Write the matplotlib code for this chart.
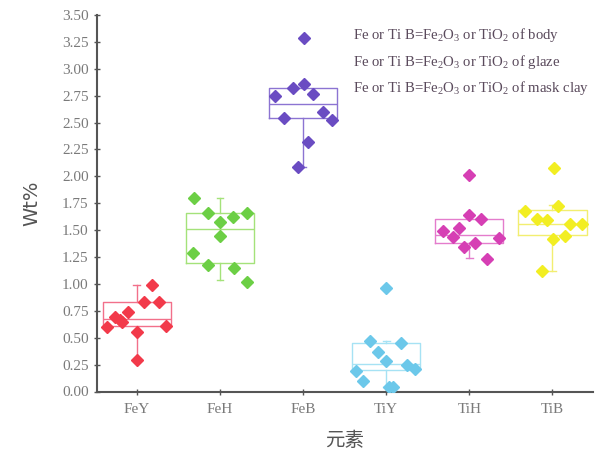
import matplotlib
matplotlib.use("Agg")
import matplotlib.pyplot as plt
import numpy as np

plt.rcParams['mathtext.fontset'] = 'custom'
plt.rcParams['mathtext.rm'] = 'Liberation Serif'
plt.rcParams['mathtext.it'] = 'Liberation Serif'

categories = ["FeY", "FeH", "FeB", "TiY", "TiH", "TiB"]

# point values (Wt%)
FeY = [0.60, 0.695, 0.665, 0.65, 0.74, 0.55, 0.29, 0.83, 0.99, 0.835, 0.61]
FeH = [1.80, 1.655, 1.58, 1.45, 1.62, 1.655, 1.285, 1.175, 1.145, 1.02]
FeB = [3.29, 2.745, 2.82, 2.855, 2.77, 2.54, 2.60, 2.52, 2.32, 2.09]
TiY = [0.465, 0.45, 0.37, 0.28, 0.25, 0.21, 0.19, 0.10, 0.045, 0.045, 0.96]
TiH = [2.01, 1.64, 1.60, 1.49, 1.52, 1.44, 1.43, 1.345, 1.38, 1.23]
TiB = [2.08, 1.727, 1.68, 1.60, 1.59, 1.555, 1.56, 1.42, 1.445, 1.12]

# horizontal jitter of each point (category units)
FeY_jit = [-0.36, -0.265, -0.2, -0.18, -0.1, 0.0, 0.0, 0.085, 0.18, 0.265, 0.35]
FeH_jit = [-0.31, -0.145, 0.0, 0.0, 0.16, 0.32, -0.32, -0.145, 0.17, 0.32]
FeB_jit = [0.01, -0.34, -0.12, 0.01, 0.12, -0.23, 0.235, 0.35, 0.055, -0.065]
TiY_jit = [-0.19, 0.175, -0.1, 0.0, 0.25, 0.35, -0.36, -0.28, 0.035, 0.085, 0.0]
TiH_jit = [0.0, 0.0, 0.14, -0.32, -0.13, -0.2, 0.355, -0.065, 0.065, 0.21]
TiB_jit = [0.02, 0.07, -0.33, -0.19, -0.06, 0.21, 0.36, 0.01, 0.15, -0.125]

# box statistics
q1 = [0.61, 1.19, 2.54, 0.20, 1.38, 1.455]
med = [0.67, 1.515, 2.67, 0.26, 1.455, 1.56]
q3 = [0.835, 1.655, 2.82, 0.455, 1.60, 1.69]
whislo = [0.29, 1.036, 2.09, 0.04, 1.24, 1.12]
whishi = [0.99, 1.80, 2.855, 0.465, 1.64, 1.73]

legend_lines = [
    r"Fe or Ti B=Fe$_2$O$_3$ or TiO$_2$ of body",
    r"Fe or Ti B=Fe$_2$O$_3$ or TiO$_2$ of glaze",
    r"Fe or Ti B=Fe$_2$O$_3$ or TiO$_2$ of mask clay",
]

point_colors = ["#f23a4a", "#6ccf45", "#6a4cc2", "#6cc8ea", "#d63fb4", "#f2ee22"]
box_colors = ["#f2708a", "#a4e27a", "#8c74d2", "#a6e2f4", "#e47ccc", "#f2ee70"]

series = [FeY, FeH, FeB, TiY, TiH, TiB]
jitters = [FeY_jit, FeH_jit, FeB_jit, TiY_jit, TiH_jit, TiB_jit]

fig = plt.figure(figsize=(5.98, 4.5), dpi=100)
ax = fig.add_axes([0.162, 0.13, 0.830, 0.8367])

pos = np.arange(len(categories))
for i in range(len(categories)):
    st = dict(med=med[i], q1=q1[i], q3=q3[i], whislo=whislo[i], whishi=whishi[i], fliers=[])
    c = box_colors[i]
    ax.bxp([st], positions=[pos[i]], widths=0.82, showfliers=False,
           boxprops=dict(color=c, linewidth=1.0),
           medianprops=dict(color=c, linewidth=1.0),
           whiskerprops=dict(color=c, linewidth=1.0),
           capprops=dict(color=c, linewidth=1.0), capwidths=0.08,
           manage_ticks=False)
    xs = pos[i] + np.array(jitters[i])
    ax.plot(xs, series[i], linestyle='none', marker='D', markersize=6.3,
            color=point_colors[i], markeredgecolor=point_colors[i], zorder=3)

ax.set_xlim(-0.48, 5.49)
ax.set_ylim(0, 3.5)
ax.set_yticks(np.arange(0, 3.51, 0.25))
ax.set_yticklabels([f"{v:.2f}" for v in np.arange(0, 3.51, 0.25)])
ax.set_xticks(pos)
ax.set_xticklabels(categories)

for s in ["top", "right"]:
    ax.spines[s].set_visible(False)
for s in ["left", "bottom"]:
    ax.spines[s].set_color("#555555")
    ax.spines[s].set_linewidth(1.5)

ax.tick_params(axis='both', direction='inout', length=5, width=1.0, color="#555555",
               labelcolor="#7a7a7a", labelsize=11)
for lab in ax.get_xticklabels() + ax.get_yticklabels():
    lab.set_family("Liberation Serif")
ax.tick_params(axis='x', pad=6)

ax.set_ylabel("Wt%", fontsize=14, color="#555555", family="DejaVu Sans", labelpad=15)
ax.set_xlabel("元素", fontsize=14, color="#555555",
              family=["Noto Sans CJK SC", "DejaVu Sans"], labelpad=10)

ys = [0.947, 0.875, 0.806]
for t, y in zip(legend_lines, ys):
    ax.text(0.516, y, t, transform=ax.transAxes, ha='left', va='center',
            fontsize=10.6, color="#5a4a5c", family="Liberation Serif")

fig.savefig("out.png", dpi=100)
